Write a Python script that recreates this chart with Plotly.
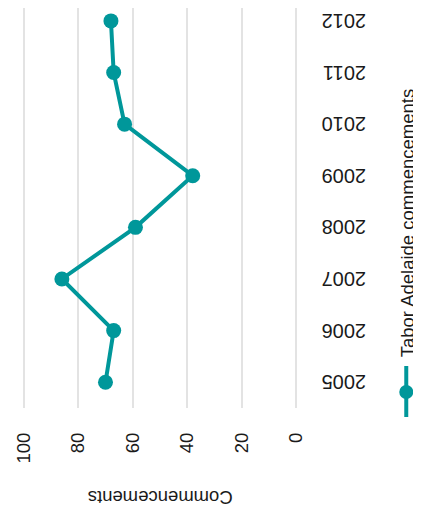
import plotly.graph_objects as go

years = [2005, 2006, 2007, 2008, 2009, 2010, 2011, 2012]
commencements = [70, 67, 86, 59, 38, 63, 67, 68]
series_name = "Tabor Adelaide commencements"
value_ticks = [0, 20, 40, 60, 80, 100]

TEAL = "#00979a"
TEXT = "#1a1a1a"
GRID = "#e3e3e3"
FONT = "Liberation Sans"

# the page body adds 8px around the figure: lay out 8px up/left and keep the
# figure small enough that the page never scrolls
OFF = 8
W, H = 405, 501
L, T = 12.6, 0
R, B = W - 290.7, H - 400
pw, ph = W - L - R, H - T - B


def px(xp):
    return (xp - OFF - L) / pw


def py(yp):
    return (H - B - (yp - OFF)) / ph


fig = go.Figure()
fig.add_trace(go.Scatter(
    x=commencements, y=years,
    mode="lines+markers",
    line=dict(color=TEAL, width=4),
    marker=dict(color=TEAL, size=15),
    name=series_name,
    showlegend=False,
    cliponaxis=False,
))

# legend drawn by hand, turned on its side like the rest of the chart
fig.add_shape(type="line", xref="paper", yref="paper",
              x0=px(406), x1=px(406), y0=py(366), y1=py(417),
              line=dict(color=TEAL, width=4))
fig.add_shape(type="circle", xref="paper", yref="paper",
              x0=px(406 - 7), x1=px(406 + 7), y0=py(392 + 7), y1=py(392 - 7),
              fillcolor=TEAL, line=dict(width=0))
fig.add_annotation(text=series_name, xref="paper", yref="paper",
                   x=px(407), y=py(223), textangle=-90, showarrow=False,
                   xanchor="center", yanchor="middle",
                   font=dict(size=18.5, color=TEXT, family=FONT))

fig.add_annotation(text="Commencements", xref="paper", yref="paper",
                   x=px(159.5), y=py(498), textangle=180, showarrow=False,
                   xanchor="center", yanchor="middle",
                   font=dict(size=18.5, color=TEXT, family=FONT))

fig.update_layout(
    width=W, height=H,
    margin=dict(l=L, r=R, t=T, b=B, autoexpand=False),
    paper_bgcolor="white", plot_bgcolor="white",
    font=dict(family=FONT, color=TEXT),
    xaxis=dict(
        range=[101, -1], tickvals=value_ticks,
        showgrid=True, gridcolor=GRID, gridwidth=2,
        zeroline=False, showline=False, automargin=False,
        tickangle=-90, ticklabelstandoff=20,
        tickfont=dict(size=18.5, color=TEXT, family=FONT),
    ),
    yaxis=dict(
        range=[2004.5, 2012.25], tickvals=years, side="right",
        showgrid=False, zeroline=False, showline=False, automargin=False,
        tickangle=180, ticklabelstandoff=66, ticklabelshift=6,
        ticklabeloverflow="allow",
        tickfont=dict(size=20, color=TEXT, family=FONT),
    ),
)

fig.write_html("out.html")
